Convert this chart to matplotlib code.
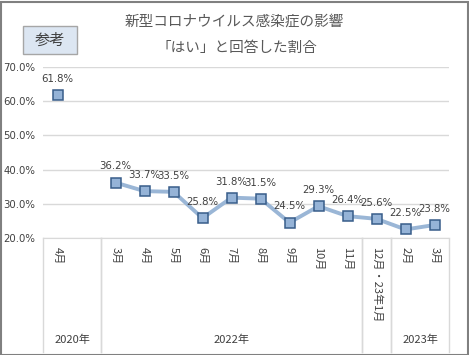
"""
Line chart: share of "yes" answers on COVID-19 impact
"""

import numpy as np
import matplotlib.pyplot as plt
from matplotlib.patches import Rectangle
import matplotlib.transforms as mtransforms

plt.rcParams['font.family'] = ['Noto Sans CJK JP', 'DejaVu Sans']

# data
months  = ['4月', '', '3月', '4月', '5月', '6月', '7月', '8月', '9月',
           '10月', '11月', '12月・23年1月', '2月', '3月']
values  = [61.8, np.nan, 36.2, 33.7, 33.5, 25.8, 31.8, 31.5, 24.5,
           29.3, 26.4, 25.6, 22.5, 23.8]
years   = ['2020年', '2022年', '', '2023年']
groups  = [(0, 1), (2, 10), (11, 11), (12, 13)]   # first/last category of each year group
yticks  = [20, 30, 40, 50, 60, 70]

W, H    = 469, 355
fig = plt.figure(figsize=(W/100, H/100), dpi=100)
ax = fig.add_axes([43/W, (H-238)/H, (449-43)/W, 171/H])

x = np.arange(len(values))
ax.plot(x, values, color='#9ab6d6', linewidth=2.8, zorder=2)
ax.plot(x, values, linestyle='none', marker='s', markersize=7,
        markerfacecolor='#95b3d7', markeredgecolor='#385d8a',
        markeredgewidth=1.1, zorder=3)

for xi, v in zip(x, values):
    if np.isnan(v):
        continue
    ax.annotate(f'{v:.1f}%', (xi, v), xytext=(0, 8), textcoords='offset points',
                ha='center', va='bottom', fontsize=7.3, color='#404040',
                family='DejaVu Sans')

ax.set_xlim(-0.5, len(values) - 0.5)
ax.set_ylim(20, 70)
ax.set_yticks(yticks)
ax.set_yticklabels([f'{t:.1f}%' for t in yticks], fontsize=7.3, color='#404040',
                   family='DejaVu Sans')
for lab in ax.get_yticklabels():
    lab.set_horizontalalignment('left')
ax.yaxis.set_tick_params(length=0, pad=28.5)
ax.set_xticks([])
ax.grid(axis='y', color='#d9d9d9', linewidth=1)
for s in ['top', 'right', 'left']:
    ax.spines[s].set_visible(False)
ax.spines['bottom'].set_color('#d9d9d9')

# category axis below the plot
trans = mtransforms.blended_transform_factory(ax.transData, ax.transAxes)
ybot = -(352 - 238) / 171
for g0, g1 in groups:
    for xs in (g0 - 0.5, g1 + 0.5):
        ax.plot([xs, xs], [0, ybot], color='#d9d9d9', linewidth=1,
                transform=trans, clip_on=False)
for xi, m in zip(x, months):
    ax.text(xi, -0.05, m, transform=trans, rotation=270, ha='center', va='top',
            fontsize=8, color='#404040')
for (g0, g1), yr in zip(groups, years):
    ax.text((g0 + g1) / 2, -(340 - 238) / 171, yr, transform=trans,
            ha='center', va='center', fontsize=8, color='#404040')

# title and badge
fig.text(234/W, 1 - 22/H, '新型コロナウイルス感染症の影響', ha='center', va='center',
         fontsize=10.5, color='#595959')
fig.text(237/W, 1 - 48/H, '「はい」と回答した割合', ha='center', va='center',
         fontsize=10.5, color='#595959')
fig.patches.append(Rectangle((23/W, 1 - 54/H), 54/W, 28/H, transform=fig.transFigure,
                             facecolor='#dce6f2', edgecolor='#a6a6a6', linewidth=1))
fig.text(50/W, 1 - 40/H, '参考', ha='center', va='center', fontsize=11,
         color='#404040')

# outer border
fig.patches.append(Rectangle((0.5/W, 0.5/H), (W-2)/W, (H-2)/H, transform=fig.transFigure,
                             facecolor='none', edgecolor='#808080', linewidth=1.5))

fig.savefig('out.png', dpi=100)
